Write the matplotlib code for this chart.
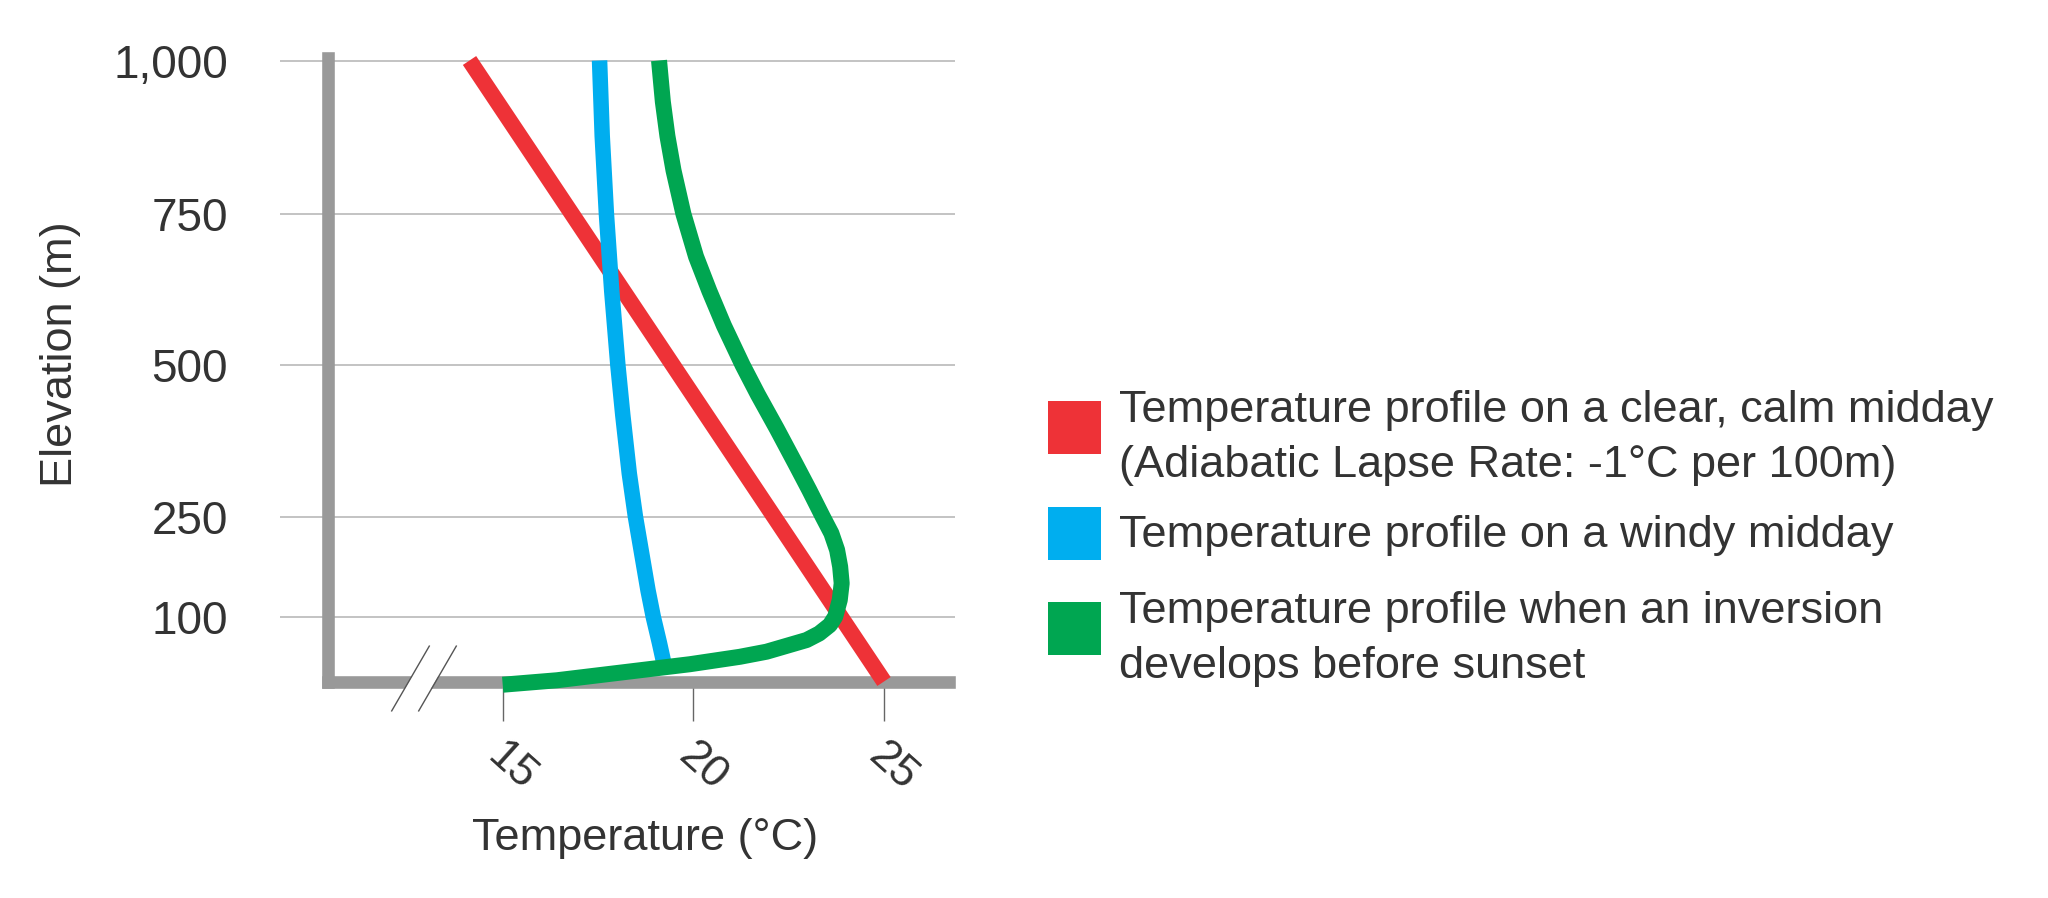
import numpy as np
import matplotlib
matplotlib.use("Agg")
import matplotlib.pyplot as plt
from matplotlib.patches import Rectangle
from matplotlib.transforms import ScaledTranslation

# ---------------- data ----------------
RED_TEMP = [14.13, 25.0]
RED_ELEV = [1000, 0]

BLUE_TEMP = [19.24, 19.11, 18.95, 18.81, 18.645, 18.48, 18.32, 18.15, 18.02,
             17.86, 17.72, 17.61, 17.54]
BLUE_ELEV = [25, 60, 100, 140, 195, 250, 321, 417, 500,
             622, 750, 877, 1000]

GREEN_TEMP = [15.00, 16.42, 18.16, 19.91, 21.22, 21.92, 22.97, 23.30, 23.58, 23.72,
              23.84, 23.89, 23.85, 23.77, 23.62, 23.39, 23.04, 22.67, 22.19, 21.69,
              21.29, 20.80, 20.42, 20.07, 19.74, 19.48, 19.32, 19.20, 19.10]
GREEN_ELEV = [-5.0, 1.9, 14.3, 26.8, 38.3, 46.2, 64.3, 74.4, 87.6, 100.4,
              125.4, 150.3, 175.1, 200.0, 224.9, 250.0, 293.7, 338.0, 394.7, 451.5,
              500.0, 565.4, 622.5, 679.5, 750.0, 820.9, 876.9, 932.9, 1000.0]

X_TICKS = [15, 20, 25]
X_TICK_LABELS = ["15", "20", "25"]
Y_TICKS = [100, 250, 500, 750, 1000]
Y_TICK_LABELS = ["100", "250", "500", "750", "1,000"]

SERIES_COLORS = ["#EE3237", "#00AEEF", "#00A651"]
LEGEND_LABELS = [
    "Temperature profile on a clear, calm midday\n(Adiabatic Lapse Rate: -1°C per 100m)",
    "Temperature profile on a windy midday",
    "Temperature profile when an inversion\ndevelops before sunset",
]
X_LABEL = "Temperature (°C)"
Y_LABEL = "Elevation (m)"

# ---------------- style / layout ----------------
plt.rcParams['font.family'] = ['Liberation Sans', 'DejaVu Sans']
TEXT_COLOR = "#333333"
AXIS_COLOR = "#999999"
GRID_COLOR = "#B3B3B3"

W, H, DPI = 2048, 898, 100
PT = 72.0 / DPI  # points per pixel

# elevation axis as drawn in the original (slightly stretched near the ground)
EK = np.array([0, 100, 250, 500, 750, 1000.0])
PK = np.array([0, 64.5, 165, 316.5, 467.5, 621.0])
LO_SLOPE, HI_SLOPE = 0.645, 0.614


def fwd(e):
    e = np.asarray(e, dtype=float)
    return np.where(e < 0, e * LO_SLOPE,
                    np.where(e > 1000, 621 + (e - 1000) * HI_SLOPE, np.interp(e, EK, PK)))


def inv(p):
    p = np.asarray(p, dtype=float)
    return np.where(p < 0, p / LO_SLOPE,
                    np.where(p > 621, 1000 + (p - 621) / HI_SLOPE, np.interp(p, PK, EK)))


PX_PER_DEG = 38.13
X15_PX = 502.7
AX_LEFT_PX, AX_RIGHT_PX = 280, 955
BASE_PX = 681.5
YLIM = (-25, 1015)


def t_at(px):
    return 15 + (px - X15_PX) / PX_PER_DEG


ax_bottom_px = BASE_PX - float(fwd(YLIM[0]))
ax_top_px = BASE_PX - float(fwd(YLIM[1]))

fig = plt.figure(figsize=(W / DPI, H / DPI), dpi=DPI, facecolor="white")
ax = fig.add_axes([AX_LEFT_PX / W, 1 - ax_bottom_px / H,
                   (AX_RIGHT_PX - AX_LEFT_PX) / W, (ax_bottom_px - ax_top_px) / H])
ax.set_yscale('function', functions=(fwd, inv))
ax.set_xlim(t_at(AX_LEFT_PX), t_at(AX_RIGHT_PX))
ax.set_ylim(*YLIM)

# spines
T_AXIS = t_at(328)
spine_lw = 12.6 * PT
for s in ['top', 'right']:
    ax.spines[s].set_visible(False)
ax.spines['left'].set_position(('data', T_AXIS))
ax.spines['left'].set_bounds(0, 1003.6)
ax.spines['bottom'].set_position(('data', 0))
ax.spines['bottom'].set_bounds(T_AXIS, t_at(AX_RIGHT_PX - 6.3))
for s in ['left', 'bottom']:
    ax.spines[s].set_color(AXIS_COLOR)
    ax.spines[s].set_linewidth(spine_lw)
    ax.spines[s].set_capstyle('projecting')

ax.set_axisbelow(True)
ax.grid(axis='y', color=GRID_COLOR, linewidth=1.1)
ax.grid(axis='x', visible=False)

# ticks
ax.set_yticks(Y_TICKS, Y_TICK_LABELS)
ax.tick_params(axis='y', length=0, pad=(328 - 228) * PT, labelsize=33, labelcolor=TEXT_COLOR)
ax.set_xticks(X_TICKS, X_TICK_LABELS)
ax.tick_params(axis='x', direction='out', length=38.5 * PT, width=1.0, color='#666666',
               pad=47 * PT, labelsize=32, labelcolor=TEXT_COLOR)
for lab in ax.get_xticklabels():
    lab.set_rotation(-42)
    lab.set_rotation_mode('anchor')
    lab.set_ha('center')
    lab.set_va('center')
    lab.set_transform(lab.get_transform() + ScaledTranslation(9 / DPI, 0, fig.dpi_scale_trans))

# profiles
LW = 16 * PT
ax.plot(RED_TEMP, RED_ELEV, color=SERIES_COLORS[0], lw=LW, solid_capstyle='butt', zorder=3, clip_on=False)
ax.plot(BLUE_TEMP, BLUE_ELEV, color=SERIES_COLORS[1], lw=15.5 * PT, solid_capstyle='butt',
        solid_joinstyle='round', zorder=3.1, clip_on=False)
ax.plot(GREEN_TEMP, GREEN_ELEV, color=SERIES_COLORS[2], lw=LW, solid_capstyle='butt',
        solid_joinstyle='round', zorder=3.2, clip_on=False)

# axis break on the temperature axis
slash = [(-0.29, -0.5), (0.29, 0.5)]
ax.plot([t_at(421.2)], [0], ls='none', marker=slash, ms=30 * PT, mec='white', mew=22.5 * PT,
        zorder=2.6, clip_on=False)
ax.plot([t_at(410.2), t_at(436.5)], [5.4, 5.4], ls='none', marker=slash, ms=66 * PT,
        mec='#555555', mew=1.0, zorder=2.7, clip_on=False)

# axis titles
fig.text(645 / W, 1 - 850 / H, X_LABEL, ha='center', va='baseline', fontsize=32.5, color=TEXT_COLOR)
fig.text(71.7 / W, 1 - 354 / H, Y_LABEL, ha='center', va='baseline', rotation=90,
         rotation_mode='anchor', fontsize=32.5, color=TEXT_COLOR)

# legend
KEY_X, KEY_SIZE = 1048, 53
KEY_TOPS = [401, 507, 602]
TEXT_X = 1119
TEXT_BASELINES = [422, 547, 623]
LINE_STEP = 55
for color, label, ktop, base in zip(SERIES_COLORS, LEGEND_LABELS, KEY_TOPS, TEXT_BASELINES):
    fig.add_artist(Rectangle((KEY_X / W, 1 - (ktop + KEY_SIZE) / H), KEY_SIZE / W, KEY_SIZE / H,
                             transform=fig.transFigure, facecolor=color, edgecolor='none'))
    for j, line in enumerate(label.split("\n")):
        fig.text(TEXT_X / W, 1 - (base + j * LINE_STEP) / H, line, ha='left', va='baseline',
                 fontsize=32.5, color=TEXT_COLOR)

fig.savefig("out.png", dpi=DPI, facecolor="white")
